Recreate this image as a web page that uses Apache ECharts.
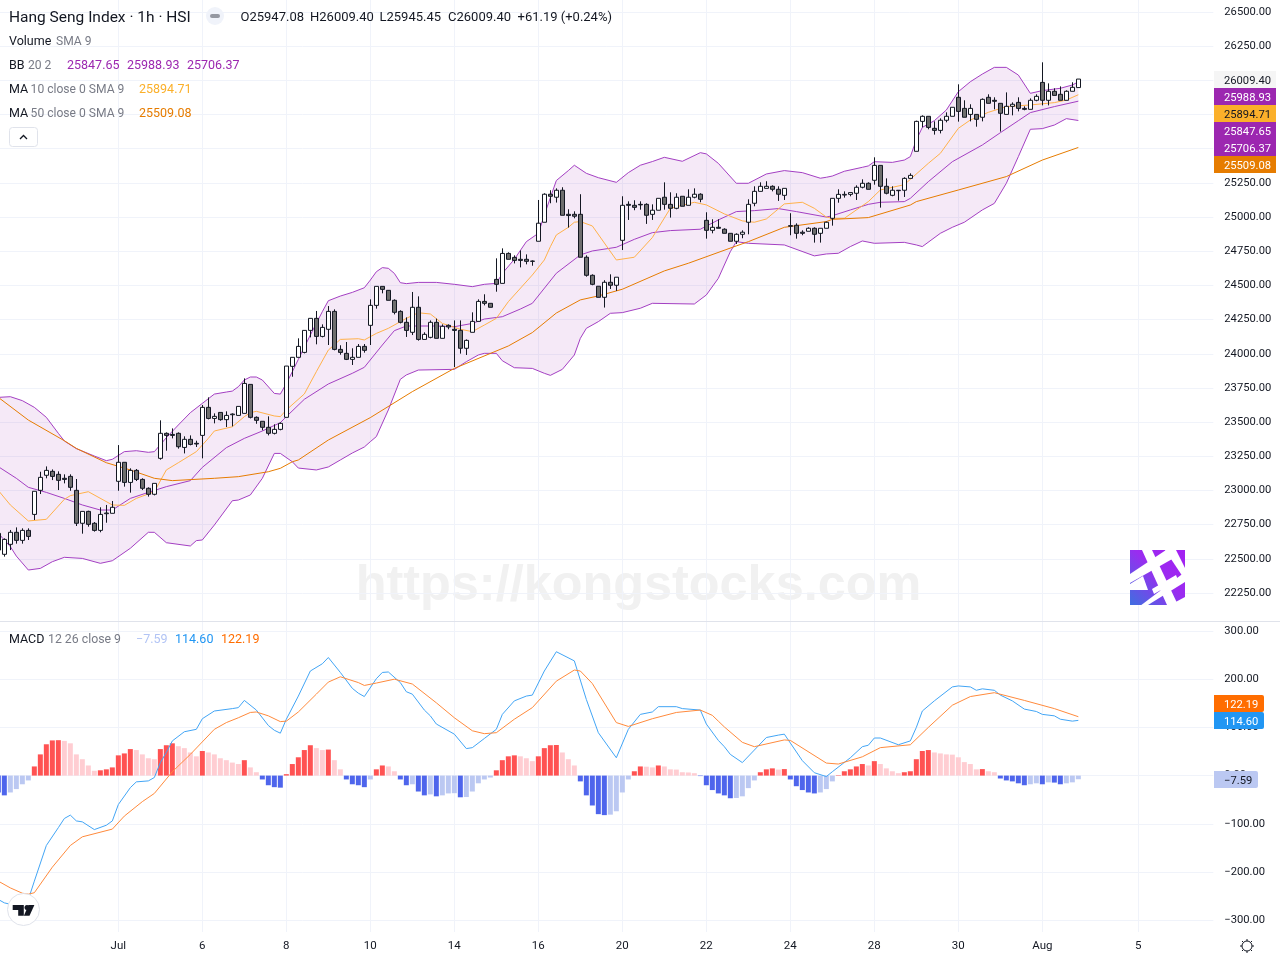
<!DOCTYPE html>
<html><head><meta charset="utf-8"><style>html,body{margin:0;padding:0;background:#fff}#c{width:1280px;height:960px}</style>
<script src="https://cdn.jsdelivr.net/npm/echarts@6/dist/echarts.min.js"></script></head><body><div id="c"></div>
<script>
// OHLC: index 0 is the bar cut off by the left edge
const opens=[22686,
22533,22606,22694,22635,22708,22825,23001,23111,23140,23118,
23089,23103,23001,22760,22847,22760,22708,22830,22833,23067,
23206,23059,23147,23081,23016,22972,23235,23418,23410,23418,
23315,23374,23345,23403,23608,23527,23571,23518,23554,23549,
23564,23776,23535,23506,23462,23418,23447,23535,23908,23974,
24010,24171,24259,24127,24179,24310,24032,24003,23959,23974,
24054,24208,24354,24493,24464,24391,24310,24230,24157,24340,
24105,24120,24230,24113,24208,24179,24171,24040,24157,24237,
24383,24369,24544,24515,24734,24705,24691,24691,24676,24823,
24962,25167,25145,25196,25020,25020,25020,24706,24574,24494,
24413,24523,24501,24830,25093,25086,25093,25093,25020,25050,
25145,25093,25064,25152,25086,25145,25167,24976,24903,24925,
24911,24881,24823,24874,24962,25101,25188,25210,25225,25203,
25159,24937,24940,24889,24896,24918,24881,24918,24991,25137,
25161,25166,25174,25218,25247,25269,25378,25225,25159,25193,
25196,25283,25481,25700,25737,25649,25634,25708,25737,25876,
25795,25751,25751,25730,25876,25854,25832,25751,25810,25839,
25795,25788,25854,25985,25854,25920,25898,25854,25920,25947.08];
const highs=[22700,
22650,22711,22730,22723,22723,22994,23137,23176,23154,23140,
23118,23118,23084,22847,22852,22769,22877,22894,22923,23332,
23206,23162,23157,23089,23023,23052,23513,23425,23454,23425,
23396,23403,23364,23625,23681,23564,23571,23579,23564,23615,
23820,23776,23542,23506,23542,23484,23498,23910,23974,24113,
24171,24259,24313,24215,24349,24325,24062,24086,24040,24071,
24071,24398,24493,24493,24466,24398,24318,24266,24452,24420,
24157,24244,24257,24215,24215,24244,24244,24105,24303,24398,
24435,24369,24698,24771,24742,24720,24756,24727,24683,25125,
25174,25196,25210,25218,25057,25042,25167,24720,24581,24494,
24538,24581,24560,25152,25115,25123,25115,25101,25093,25137,
25254,25181,25174,25152,25203,25210,25174,25035,24984,24984,
24918,24881,24881,24903,25130,25225,25254,25262,25232,25225,
25210,25028,24954,24903,24925,24925,24918,24967,25137,25203,
25188,25179,25232,25276,25254,25437,25378,25283,25225,25196,
25291,25320,25705,25744,25737,25700,25722,25766,25803,25971,
25854,25825,25751,25868,25898,25876,25832,25912,25839,25876,
25810,25868,25898,26132,25978,25942,25956,25927,25986,26009.40];
const lows=[22540,
22516,22564,22611,22611,22638,22784,22974,23089,23076,23003,
23052,22998,22740,22684,22735,22699,22694,22764,22833,22998,
23028,22984,23069,23003,22955,22964,23225,23291,23381,23306,
23271,23330,23318,23235,23520,23491,23510,23464,23469,23549,
23564,23527,23488,23440,23403,23410,23440,23535,23832,23974,
24003,24120,24069,24120,24064,24025,23993,23954,23918,23974,
24008,24064,24330,24442,24391,24288,24222,24123,24137,24096,
24105,24113,24113,24113,24179,23903,24001,23991,24157,24237,
24354,24340,24454,24515,24691,24661,24632,24654,24644,24823,
24962,25101,25106,25013,24923,24991,24706,24564,24501,24413,
24338,24474,24460,24759,24979,25050,25054,24950,24979,25050,
25054,24996,25057,25079,25086,25137,25108,24842,24881,24918,
24881,24823,24803,24845,24874,25079,25188,25210,25188,25118,
25125,24867,24842,24867,24896,24813,24813,24918,24937,25105,
25142,25152,25125,25210,25203,25237,25069,25166,25152,25120,
25147,25283,25481,25656,25642,25603,25612,25693,25737,25698,
25730,25700,25661,25700,25832,25788,25625,25751,25744,25773,
25781,25788,25847,25817,25817,25890,25854,25854,25920,25945.45];
const closes=[22564,
22642,22694,22635,22708,22664,22994,23096,23147,23103,23074,
23081,23023,22760,22847,22752,22708,22825,22835,22877,23206,
23059,23147,23081,23016,22972,23052,23418,23403,23403,23320,
23374,23337,23340,23608,23527,23542,23518,23549,23559,23615,
23783,23535,23513,23462,23418,23447,23491,23910,23974,24054,
24171,24259,24127,24193,24310,24032,24010,23959,23974,24054,
24025,24354,24493,24471,24391,24303,24230,24171,24340,24105,
24142,24230,24113,24201,24196,24171,24040,24098,24237,24383,
24369,24340,24508,24734,24691,24683,24683,24676,24678,24955,
25167,25152,25196,25013,25011,25006,24706,24574,24508,24413,
24523,24501,24560,25086,25086,25071,25089,25013,25050,25137,
25093,25064,25145,25079,25145,25167,25130,24903,24925,24918,
24881,24823,24874,24889,25093,25188,25225,25225,25203,25167,
25210,24933,24881,24881,24918,24874,24918,24962,25137,25166,
25166,25179,25218,25247,25203,25378,25225,25174,25196,25196,
25283,25305,25700,25737,25656,25634,25708,25737,25803,25773,
25730,25795,25715,25861,25832,25847,25759,25810,25825,25795,
25788,25854,25883,25854,25920,25890,25854,25920,25949,26009.40];

// indicator lines, read as [bar, value] with bar 0 the first whole candle
const bbUpper=[[-1,23681],[1,23686],[3,23657],[5,23608],[7,23535],[9,23418],[10,23362],[12,23306],[15,23252],[17,23218],[18,23228],[20,23284],[22,23291],[24,23279],[25,23284],[27,23386],[29,23479],[31,23569],[33,23637],[35,23705],[37,23720],[38,23727],[39,23759],[40,23808],[41,23830],[42,23830],[43,23808],[45,23710],[46,23705],[47,23783],[48,23869],[49,23959],[51,24137],[53,24308],[54,24388],[56,24422],[58,24449],[60,24483],[61,24539],[62,24600],[63,24630],[64,24625],[65,24588],[66,24520],[67,24513],[69,24522],[72,24522],[75,24508],[78,24491],[80,24508],[82,24515],[83,24588],[85,24691],[87,24820],[89,24881],[90,25015],[92,25267],[94,25340],[95,25379],[97,25320],[99,25288],[102,25254],[104,25325],[106,25379],[108,25406],[110,25437],[113,25408],[116,25471],[117,25462],[119,25393],[122,25247],[124,25247],[127,25315],[130,25340],[133,25325],[136,25284],[137,25291],[138,25300],[140,25335],[143,25364],[144,25374],[145,25405],[148,25400],[150,25417],[151,25442],[152,25564],[153,25656],[155,25705],[157,25783],[159,25917],[161,25990],[163,26046],[165,26095],[167,26095],[169,26039],[171,25905],[173,25925],[176,25942],[178,25966],[179,25988.93]];
const bbMid=[[-1,23174],[2,23089],[4,23023],[7,22986],[10,22942],[13,22894],[16,22857],[18,22857],[21,22942],[24,22986],[27,23028],[31,23072],[33,23169],[37,23313],[40,23381],[43,23435],[46,23496],[47,23540],[50,23667],[54,23779],[58,23857],[60,23901],[63,24064],[65,24169],[67,24203],[72,24203],[75,24198],[78,24222],[80,24254],[83,24271],[86,24327],[88,24369],[92,24589],[96,24723],[98,24752],[102,24779],[105,24837],[108,24886],[111,24901],[116,24911],[119,24979],[122,25040],[125,25047],[129,25062],[132,25040],[137,25000],[138,25010],[141,25052],[144,25093],[146,25108],[150,25113],[151,25137],[154,25259],[158,25405],[163,25527],[166,25617],[169,25705],[171,25764],[175,25808],[179,25847.65]];
const bbLower=[[-1,22686],[1,22589],[2,22520],[4,22418],[6,22430],[8,22479],[10,22511],[13,22503],[16,22467],[18,22486],[21,22577],[24,22694],[25,22694],[27,22618],[31,22594],[32,22633],[33,22638],[35,22747],[38,22925],[39,22930],[41,22967],[43,23089],[45,23271],[46,23271],[48,23210],[49,23164],[52,23150],[54,23172],[56,23223],[58,23274],[60,23318],[61,23357],[62,23394],[64,23589],[66,23813],[67,23845],[69,23881],[75,23886],[77,23942],[79,23991],[80,24003],[82,24003],[83,23949],[85,23898],[88,23893],[90,23857],[91,23842],[93,23886],[95,23991],[96,24113],[97,24186],[99,24235],[101,24296],[103,24301],[106,24333],[108,24369],[115,24364],[117,24430],[119,24552],[121,24747],[122,24820],[124,24808],[130,24796],[135,24716],[137,24730],[139,24735],[141,24784],[143,24825],[145,24808],[150,24815],[152,24796],[153,24784],[156,24881],[158,24925],[160,24962],[163,25052],[165,25100],[167,25247],[169,25442],[171,25642],[173,25647],[175,25673],[177,25720],[179,25706.37]];
const ma10=[[-1,23000],[1,22894],[4,22777],[7,22789],[10,22935],[11,22962],[14,22991],[18,22894],[20,22891],[22,22942],[25,22991],[27,23150],[29,23203],[32,23284],[34,23381],[35,23435],[38,23466],[40,23540],[41,23569],[42,23579],[45,23545],[46,23540],[47,23589],[50,23706],[52,23869],[54,24027],[56,24105],[59,24110],[60,24101],[62,24149],[64,24186],[67,24259],[69,24300],[71,24291],[73,24222],[76,24179],[78,24162],[80,24210],[82,24259],[84,24381],[88,24576],[90,24686],[91,24783],[92,24869],[94,24925],[95,24962],[96,24967],[98,24935],[102,24686],[105,24706],[108,24850],[111,25064],[115,25108],[117,25089],[120,25023],[123,24972],[125,24962],[127,24986],[130,25096],[133,25108],[135,25064],[137,25000],[138,24991],[140,24991],[144,25113],[146,25198],[150,25237],[154,25393],[156,25466],[159,25649],[161,25710],[164,25766],[167,25808],[171,25820],[175,25837],[177,25856],[179,25894.71]];
const ma50=[[-1,23681],[4,23515],[10,23364],[12,23308],[17,23203],[21,23150],[25,23089],[28,23072],[35,23089],[39,23101],[44,23137],[46,23162],[48,23210],[49,23223],[54,23369],[61,23533],[68,23723],[75,23893],[84,24057],[88,24155],[92,24298],[96,24394],[99,24423],[103,24472],[110,24606],[114,24662],[122,24789],[124,24820],[130,24925],[137,24967],[138,24983],[144,24996],[151,25088],[152,25113],[159,25198],[167,25296],[173,25417],[179,25509.08]];

// MACD pane
const macdHist=[-35,
-41,-35,-28,-18,-10,19,44,65,73,73.5,
72,67,44,34,21,10,11,13,17,42,
46,55,53,44,36,34,55,63,67,61,
57,48,40,51,48,44,36,32,27,24,
32,17,7,-8,-20,-24,-25,3,24,38,
53,63,57,53,54,32,13,-8,-18,-20,
-24,-8,13,21,19,9,-8,-20,-18,-33,
-41,-39,-43,-41,-37,-36.5,-45,-44.5,-33,-16,
-8,-4,11,32,40,42,40,36,30,40,
57,63,63.5,48,34,21,-12,-41,-62,-80,
-82,-81,-74,-35,-8,9,19,18.5,17,21,
19,13,12.5,7,6.5,5,-1,-20,-30,-37,
-41,-47,-46.5,-43,-26,-10,7,13,15,12.5,
13.5,-8,-22,-30,-35,-37,-35,-28,-12,1,
9,13,19,24,21,30,24,15,9,5,
7,9,34,51,53,48,46,44,43.5,38,
28,24,13,13.5,9,7,-6,-10,-12,-16,
-20,-18,-16,-18,-14,-14.5,-18,-16,-14,-7.59];
const macdLine=[[-1,-257],[0,-264],[1,-267],[2,-267],[3,-262],[4,-257],[5,-219],[7,-145],[9,-108],[10,-89],[11,-82],[12,-94],[13,-96],[15,-112],[17,-103],[18,-94],[19,-60],[21,-25],[22,-13],[24,-11],[25,-4],[26,27],[27,48],[28,72],[30,91],[32,96],[33,118],[35,134],[38,139],[39,141],[40,156],[42,136],[44,104],[45,94],[46,88],[47,117],[49,165],[51,217],[53,232],[54,245],[56,214],[58,181],[59,171],[60,164],[62,201],[63,214],[64,215],[66,193],[67,174],[68,169],[70,136],[71,124],[72,107],[75,86],[77,56],[78,58],[80,77],[82,96],[83,127],[85,155],[87,165],[88,167],[90,217],[92,257],[95,238],[97,158],[99,89],[102,37],[104,96],[106,127],[108,132],[109,143],[112,143],[113,139],[116,136],[117,107],[119,73],[120,60],[121,44],[123,27],[125,53],[127,79],[129,84],[130,86],[133,31],[135,6],[137,-2],[138,8],[141,37],[143,60],[144,63],[145,78],[146,78],[149,64],[151,72],[152,100],[153,134],[155,155],[158,184],[159,186],[161,184],[162,177],[163,180],[165,177],[166,167],[168,155],[170,138],[172,133],[173,127],[175,124],[176,117],[178,113],[179,114.60]];
const macdSignal=[[-1,-219],[1,-233],[3,-244],[4,-246],[5,-243],[8,-190],[11,-145],[13,-127],[18,-111],[20,-84],[23,-54],[25,-37],[28,8],[31,44],[35,96],[37,110],[39,120],[41,131],[42,132],[44,124],[46,112],[47,113],[49,132],[52,169],[54,194],[56,205],[59,193],[60,187],[62,192],[65,200],[68,190],[72,151],[75,120],[78,93],[80,87],[82,89],[85,117],[88,141],[92,196],[95,219],[96,217],[98,191],[102,110],[104,102],[108,118],[112,131],[116,136],[118,125],[119,113],[120,101],[123,69],[125,60],[130,74],[131,73],[137,26],[139,24],[143,39],[146,58],[151,64],[154,100],[158,146],[161,164],[165,172],[170,156],[175,139],[179,122.19]];

// time axis
const tickBars=[19,33,47,61,75,89,103,117,131,145,159,173,189];
const tickLabels=['Jul','6','8','10','14','16','20','22','24','28','30','Aug','5'];
const totalSlots=203;
const categories=Array.from({length:totalSlots},(_,n)=>String(n-1));

// last-value tags
const priceTags=[['26009.40',71,'#f5f5f5','#131722'],['25988.93',88,'#9c27b0','#fff'],['25894.71',105,'#fbb02a','#131722'],['25847.65',122,'#9c27b0','#fff'],['25706.37',139,'#9c27b0','#fff'],['25509.08',156,'#e67c00','#fff']];
const macdTags=[['122.19',695,'#ff6d00','#fff',50],['114.60',712,'#2196f3','#fff',50],['\u22127.59',771,'#bbc8f2','#131722',44]];

const FONT='Roboto, "Open Sans", sans-serif';
const INK='#131722', GREY='#787b86', GRID='#f0f3fa', PURPLE='#9c27b0';
const AXIS_SIZE=11.2;
const shift=a=>a.map(p=>[p[0]+1,p[1]]);
const tickIdx=new Set(tickBars.map(b=>b+1));
const fmt=v=>(v<0?'\u2212':'')+Math.abs(v).toFixed(2);

function txt(x,y,text,fill,size){return {type:'text',silent:true,z:50,style:{x,y,text,fill,font:(size||12.5)+'px '+FONT,textVerticalAlign:'middle',textAlign:'left'}};}
function poly(points,fill,z){return {type:'polygon',silent:true,z:z||50,shape:{points},style:{fill}};}

const g=[];
g.push({type:'text',silent:true,z:0,style:{x:638.5,y:586,text:'https://kongstocks.com',fill:'#f1f1f1',font:'bold 50.4px "Liberation Sans", Arial, sans-serif',textAlign:'center',textVerticalAlign:'middle'}});
g.push({type:'rect',silent:true,z:40,shape:{x:0,y:621,width:1280,height:1},style:{fill:'#e0e3eb'}});
// header
g.push(txt(9,17.7,'Hang Seng Index \u00b7 1h \u00b7 HSI',INK,15.5));
g.push({type:'circle',silent:true,z:50,shape:{cx:215,cy:16,r:9},style:{fill:'#f0f3fa'}});
g.push({type:'rect',silent:true,z:51,shape:{x:210,y:14,width:10,height:4,r:2},style:{fill:'#9598a1'}});
[[240.5,'O25947.08'],[310,'H26009.40'],[379.5,'L25945.45'],[448,'C26009.40'],[517.5,'+61.19 (+0.24%)']].forEach(t=>g.push(txt(t[0],17.7,t[1],INK,13)));
g.push(txt(9,41.8,'Volume',INK)); g.push(txt(56,41.8,'SMA 9',GREY,12.1));
g.push(txt(9,65.8,'BB',INK)); g.push(txt(28,65.8,'20 2',GREY,12.1));
[[67,'25847.65'],[127,'25988.93'],[187,'25706.37']].forEach(t=>g.push(txt(t[0],65.8,t[1],PURPLE)));
g.push(txt(9,89.8,'MA',INK)); g.push(txt(30.6,89.8,'10 close 0 SMA 9',GREY,12.1)); g.push(txt(139,89.8,'25894.71','#fbb02a'));
g.push(txt(9,113.8,'MA',INK)); g.push(txt(30.6,113.8,'50 close 0 SMA 9',GREY,12.1)); g.push(txt(139,113.8,'25509.08','#e67c00'));
g.push({type:'rect',silent:true,z:50,shape:{x:9.5,y:127.5,width:28,height:19,r:3},style:{fill:'#fff',stroke:'#e0e3eb',lineWidth:1}});
g.push({type:'polyline',silent:true,z:51,shape:{points:[[20,139],[23.5,135.5],[27,139]]},style:{stroke:INK,lineWidth:1.3,fill:'none'}});
// macd legend
g.push(txt(9,639.8,'MACD',INK)); g.push(txt(48,639.8,'12 26 close 9',GREY,12.3));
g.push(txt(136,639.8,'\u22127.59','#b2c4f5')); g.push(txt(175,639.8,'114.60','#2196f3')); g.push(txt(221,639.8,'122.19','#ff6d00'));
// tags
priceTags.forEach(t=>{g.push({type:'rect',silent:true,z:45,shape:{x:1214,y:t[1],width:62,height:17},style:{fill:t[2]}});g.push(txt(1224,t[1]+9.8,t[0],t[3],AXIS_SIZE));});
macdTags.forEach(t=>{g.push({type:'rect',silent:true,z:45,shape:{x:1214,y:t[1],width:t[4],height:17,r:[0,2,2,0]},style:{fill:t[2]}});g.push(txt(1224,t[1]+9.8,t[0],t[3],AXIS_SIZE));});
// corner logo
g.push({type:'rect',silent:true,z:5,shape:{x:1130,y:550,width:55,height:55},style:{fill:{type:'linear',x:0,y:1,x2:1,y2:0,colorStops:[{offset:0,color:'#3f6fe0'},{offset:.55,color:'#9a2cf0'},{offset:1,color:'#a41ff2'}]}}});
[[[1130,574],[1130,583],[1174,558],[1170,550],[1166,550]],[[1140,606],[1148,605],[1185,582],[1185,572]],[[1170,605],[1185,605],[1185,597]],[[1142,550],[1152,550],[1178,605],[1167,605]],[[1165,550],[1176,550],[1185,568],[1185,580]],[[1130,590],[1148,590],[1143,576],[1130,584]],[[1152,589],[1176,575],[1178,580],[1154,594]]].forEach(p=>g.push(poly(p,'#fff',6)));
// tv badge
g.push({type:'circle',silent:true,z:50,shape:{cx:23.5,cy:909.5,r:16},style:{fill:'#fff',stroke:'#e0e3eb',lineWidth:1}});
g.push(poly([[12.7,905],[23.8,905],[23.8,915.7],[18.2,915.7],[18.2,910],[12.7,910]],INK,51));
g.push({type:'circle',silent:true,z:51,shape:{cx:27,cy:907.5,r:2.5},style:{fill:INK}});
g.push(poly([[28.5,905],[34.4,905],[29.5,915.7],[23.9,915.7]],INK,51));
// gear icon
g.push({type:'circle',silent:true,z:50,shape:{cx:1247,cy:946,r:5},style:{fill:'#fff',stroke:INK,lineWidth:1}});
[[0,-7,0,-5],[0,5,0,7],[-7,0,-5,0],[5,0,7,0],[-5,-5,-3.6,-3.6],[3.6,3.6,5,5],[-5,5,-3.6,3.6],[3.6,-3.6,5,-5]].forEach(l=>g.push({type:'line',silent:true,z:50,shape:{x1:1247+l[0],y1:946+l[1],x2:1247+l[2],y2:946+l[3]},style:{stroke:INK,lineWidth:1}}));

const histColor=(v,prev)=>v>=0?(v>=prev?'#ff5252':'#ffcdd2'):(v<=prev?'#4e65ec':'#bbc8f2');
const yAxisBase={position:'right',scale:false,axisLine:{show:false},axisTick:{show:false},axisLabel:{color:INK,fontFamily:FONT,fontSize:AXIS_SIZE,margin:11,padding:[3,0,0,0],formatter:fmt},splitLine:{lineStyle:{color:GRID,width:1}}};
const line=(name,pts,color,xi,width)=>({name,type:'line',xAxisIndex:xi,yAxisIndex:xi,data:shift(pts),showSymbol:false,symbol:'none',silent:true,z:3,lineStyle:{color,width:width||1},animation:false});

const option={
 animation:false,backgroundColor:'#fff',
 grid:[
  {left:-4.67,width:1218,top:-22.176,height:649.35,outerBoundsMode:'none'},
  {left:-4.67,width:1218,top:631,height:289.2,outerBoundsMode:'none'},
  {left:-1.67,width:1212,top:0,height:932,outerBoundsMode:'none'}
 ],
 xAxis:[
  {gridIndex:0,type:'category',data:categories,show:false},
  {gridIndex:1,type:'category',data:categories,show:false},
  {gridIndex:2,type:'category',data:categories,boundaryGap:false,axisLine:{show:false},axisTick:{show:false},
   splitLine:{show:true,interval:(n)=>tickIdx.has(n),lineStyle:{color:GRID,width:1}},
   axisLabel:{show:true,interval:(n)=>tickIdx.has(n),color:INK,fontFamily:FONT,fontSize:11.5,margin:8.5,formatter:(v,n)=>{const at=tickBars.indexOf(n-1);return at>=0?tickLabels[at]:'';}}}
 ],
 yAxis:[
  Object.assign({},yAxisBase,{gridIndex:0,type:'value',min:22000,max:26750,interval:250,
    axisLabel:Object.assign({},yAxisBase.axisLabel,{showMinLabel:false,showMaxLabel:false}),
    splitLine:Object.assign({},yAxisBase.splitLine,{showMinLine:false,showMaxLine:false})}),
  Object.assign({},yAxisBase,{gridIndex:1,type:'value',min:-300,max:300,interval:100}),
  {gridIndex:2,type:'value',show:false,min:0,max:1,splitLine:{show:false}}
 ],
 series:[
  {type:'line',xAxisIndex:2,yAxisIndex:2,data:[],silent:true},
  {type:'custom',xAxisIndex:0,yAxisIndex:0,z:1,silent:true,clip:true,data:[[0,22000]],encode:{x:0,y:1},
   renderItem:(p,api)=>{const pts=shift(bbUpper).concat(shift(bbLower).reverse()).map(q=>api.coord(q));
    return {type:'polygon',shape:{points:pts},style:{fill:'rgba(156,39,176,0.1)'}};}},
  line('BB upper',bbUpper,'#a33fc2',0),line('BB mid',bbMid,'#a33fc2',0),line('BB lower',bbLower,'#a33fc2',0),
  line('MA 10',ma10,'#ffb14a',0),line('MA 50',ma50,'#e67c00',0),
  {type:'candlestick',xAxisIndex:0,yAxisIndex:0,z:4,silent:true,barWidth:4,
   data:opens.map((o,n)=>[o,closes[n],lows[n],highs[n]]),
   itemStyle:{color:'#ffffff',color0:'#6e6e6e',borderColor:INK,borderColor0:INK,borderColorDoji:INK,borderWidth:1}},
  {type:'bar',xAxisIndex:1,yAxisIndex:1,z:2,silent:true,barWidth:5,
   data:macdHist.map((v,n)=>({value:v,itemStyle:{color:histColor(v,n?macdHist[n-1]:v+1)}}))},
  line('MACD',macdLine,'#42a5f5',1),line('Signal',macdSignal,'#ff8a3c',1)
 ],
 graphic:{elements:g}
};
echarts.init(document.getElementById('c')).setOption(option);
</script></body></html>
